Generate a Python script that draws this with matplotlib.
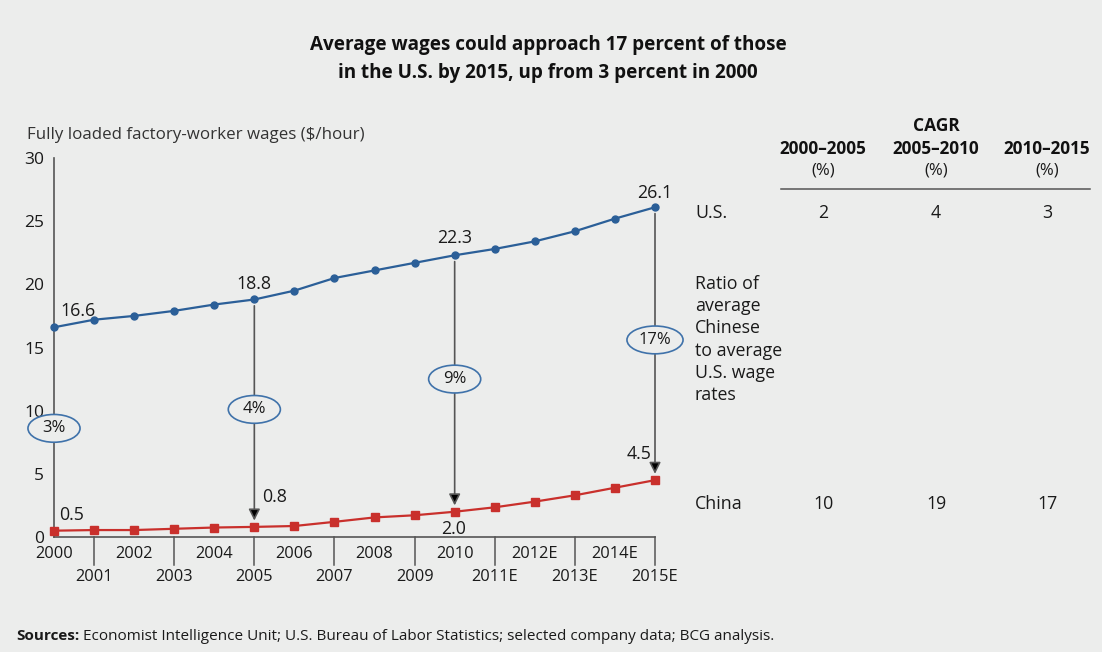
import matplotlib
matplotlib.use("Agg")
from matplotlib import pyplot as plt
from matplotlib.patches import Ellipse

plt.rcParams['font.family'] = ['Open Sans', 'DejaVu Sans']

''' Data '''
years = list(range(2000, 2016))
year_labels = ['2000', '2001', '2002', '2003', '2004', '2005', '2006', '2007',
               '2008', '2009', '2010', '2011E', '2012E', '2013E', '2014E', '2015E']
us_wages = [16.6, 17.2, 17.5, 17.9, 18.4, 18.8, 19.5, 20.5,
            21.1, 21.7, 22.3, 22.8, 23.4, 24.2, 25.2, 26.1]
china_wages = [0.5, 0.55, 0.55, 0.65, 0.75, 0.8, 0.87, 1.2,
               1.55, 1.72, 2.0, 2.35, 2.8, 3.3, 3.9, 4.5]

ratio_years = [2000, 2005, 2010, 2015]
ratio_labels = ['3%', '4%', '9%', '17%']

cagr_periods = ['2000–2005', '2005–2010', '2010–2015']
us_cagr = [2, 4, 3]
china_cagr = [10, 19, 17]

''' Style '''
BG = '#ecedec'
BLUE = '#2b5f98'
RED = '#c9302c'
GREY = '#555555'
TXT = '#1a1a1a'
W, H = 1102, 652


def px(x, y):
    # pixel position -> figure fraction
    return x / W, 1 - y / H


fig = plt.figure(figsize=(W / 100, H / 100), dpi=100, facecolor=BG)
ax = fig.add_axes([54 / W, (H - 537) / H, 601 / W, 379 / H], facecolor=BG)

ax.plot(years, us_wages, color=BLUE, marker='o', ms=5, lw=1.6, zorder=4, clip_on=False)
ax.plot(years, china_wages, color=RED, marker='s', ms=6, lw=1.6, zorder=4, clip_on=False)

ax.set_xlim(2000, 2015)
ax.set_ylim(0, 30)
for s in ['top', 'right']:
    ax.spines[s].set_visible(False)
for s in ['left', 'bottom']:
    ax.spines[s].set_color(GREY)
    ax.spines[s].set_linewidth(1.2)
ax.set_xticks([])
ax.set_yticks([0, 5, 10, 15, 20, 25, 30])
ax.tick_params(axis='y', length=0, pad=7, labelsize=12.5, labelcolor=TXT)

# two-row year labels, ticks at odd years
for yr, lab in zip(years, year_labels):
    if yr % 2 == 0:
        ax.text(yr, -1.35, lab, ha='center', va='center', fontsize=11.8, color=TXT, clip_on=False)
    else:
        ax.text(yr, -3.2, lab, ha='center', va='center', fontsize=11.8, color=TXT, clip_on=False)
        ax.plot([yr, yr], [0, -2.2], color=GREY, lw=1.1, clip_on=False)

# ratio arrows + ellipses
idx = {y: i for i, y in enumerate(years)}
ell_y = {2000: 8.6, 2005: 10.1, 2010: 12.5, 2015: 15.6}
for yr, lab in zip(ratio_years, ratio_labels):
    i = idx[yr]
    if yr != 2000:
        ax.annotate('', xy=(yr, china_wages[i] + 0.5), xytext=(yr, us_wages[i] - 0.5),
                    arrowprops=dict(arrowstyle='-|>', color=GREY, lw=1.2,
                                    mutation_scale=17, shrinkA=0, shrinkB=0,
                                    fc='black', ec=GREY), zorder=2)
    wdt = 1.3 if len(lab) == 2 else 1.4
    ax.add_patch(Ellipse((yr, ell_y[yr]), wdt, 2.2, facecolor=BG, edgecolor='#3f72aa',
                         lw=1.2, zorder=5, clip_on=False))
    ax.text(yr, ell_y[yr], lab, ha='center', va='center', fontsize=12, color=TXT, zorder=6)

# value labels
lab_kw = dict(ha='center', va='center', fontsize=12.8, color=TXT, clip_on=False)
ax.text(2000.6, 17.9, '16.6', **lab_kw)
ax.text(2005, 20.0, '18.8', **lab_kw)
ax.text(2010, 23.7, '22.3', **lab_kw)
ax.text(2015, 27.2, '26.1', **lab_kw)
ax.text(2000.45, 1.75, '0.5', **lab_kw)
ax.text(2005.5, 3.15, '0.8', **lab_kw)
ax.text(2009.97, 0.65, '2.0', **lab_kw)
ax.text(2014.6, 6.6, '4.5', **lab_kw)

# titles
fig.text(*px(548, 45), 'Average wages could approach 17 percent of those',
         ha='center', va='center', fontsize=13.6, fontweight='bold', color='#111')
fig.text(*px(548, 73), 'in the U.S. by 2015, up from 3 percent in 2000',
         ha='center', va='center', fontsize=13.6, fontweight='bold', color='#111')
fig.text(*px(27, 135), 'Fully loaded factory-worker wages ($/hour)',
         ha='left', va='center', fontsize=12.2, color='#333')

# CAGR table
col_x = [823, 936, 1047]
fig.text(*px(936, 126), 'CAGR', ha='center', va='center', fontsize=12.5, fontweight='bold', color='#111')
for cx, per in zip(col_x, cagr_periods):
    fig.text(*px(cx, 149), per, ha='center', va='center', fontsize=12.3, fontweight='bold', color='#111')
    fig.text(*px(cx, 171), '(%)', ha='center', va='center', fontsize=12, color=TXT)
fig.add_artist(plt.Line2D([781 / W, 1090 / W], [1 - 189 / H] * 2, color=GREY, lw=1.1))

fig.text(*px(695, 213), 'U.S.', ha='left', va='center', fontsize=12.8, color=TXT)
fig.text(*px(695, 504), 'China', ha='left', va='center', fontsize=12.8, color=TXT)
for cx, u, c in zip(col_x, us_cagr, china_cagr):
    fig.text(*px(cx, 213), str(u), ha='center', va='center', fontsize=12.8, color=TXT)
    fig.text(*px(cx, 504), str(c), ha='center', va='center', fontsize=12.8, color=TXT)

fig.text(*px(695, 275), 'Ratio of\naverage\nChinese\nto average\nU.S. wage\nrates',
         ha='left', va='top', fontsize=12.8, color=TXT, linespacing=1.3)

# sources line: bold lead-in, then the rest right after it
src = fig.text(*px(16, 636), 'Sources:', ha='left', va='center', fontsize=11,
               fontweight='bold', color=TXT)
bb = src.get_window_extent(renderer=fig.canvas.get_renderer())
fig.text((bb.x1 + 4) / W, 1 - 636 / H,
         'Economist Intelligence Unit; U.S. Bureau of Labor Statistics; selected company data; BCG analysis.',
         ha='left', va='center', fontsize=11, color=TXT)

fig.savefig('out.png', dpi=100, facecolor=BG)
